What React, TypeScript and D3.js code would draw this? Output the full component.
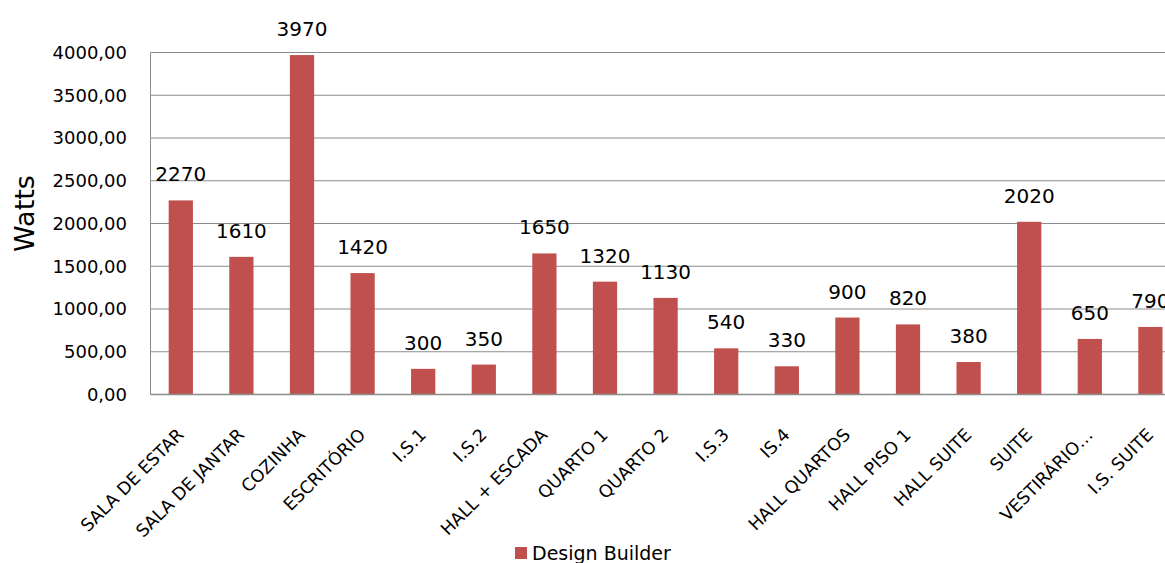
import React from "react";
import * as d3 from "d3";

const categories = [
  "SALA DE ESTAR", "SALA DE JANTAR", "COZINHA", "ESCRITÓRIO", "I.S.1", "I.S.2",
  "HALL + ESCADA", "QUARTO 1", "QUARTO 2", "I.S.3", "IS.4", "HALL QUARTOS",
  "HALL PISO 1", "HALL SUITE", "SUITE", "VESTIRÁRIO…", "I.S. SUITE",
];
const designBuilder = [2270, 1610, 3970, 1420, 300, 350, 1650, 1320, 1130, 540, 330, 900, 820, 380, 2020, 650, 790];
const yTicks = [0, 500, 1000, 1500, 2000, 2500, 3000, 3500, 4000];
const seriesName = "Design Builder";
const yTitle = "Watts";

const W = 1165;
const H = 563;
const FONT = "'DejaVu Sans', Verdana, sans-serif";
const BAR = "#C0504D";
const GRID = "#8c8c8c";

export default function App() {
  const left = 150.5;
  const step = 60.6;
  const x = d3
    .scaleBand<string>()
    .domain(categories)
    .range([left, left + step * categories.length])
    .paddingInner(0.6)
    .paddingOuter(0.3);
  const y = d3.scaleLinear().domain([0, 4000]).range([394.5, 52.5]);
  const fmt = (v: number) => v.toFixed(2).replace(".", ",");

  return (
    <svg
      width={W}
      height={H}
      style={{ position: "absolute", left: 0, top: 0, display: "block", background: "#fff" }}
      fontFamily={FONT}
    >
      {yTicks.map((t) => (
        <g key={t}>
          <line x1={left} x2={W} y1={y(t)} y2={y(t)} stroke={GRID} strokeWidth={1} />
          <text x={127} y={y(t)} dy="0.36em" textAnchor="end" fontSize={18} fill="#000">
            {fmt(t)}
          </text>
        </g>
      ))}
      <line x1={left} x2={left} y1={y(4000)} y2={y(0)} stroke={GRID} strokeWidth={1} />

      {categories.map((c, i) => {
        const v = designBuilder[i];
        const bx = x(c)!;
        const cx = bx + x.bandwidth() / 2;
        return (
          <g key={c}>
            <rect x={bx} y={y(v)} width={x.bandwidth()} height={y(0) - y(v)} fill={BAR} />
            <text x={cx} y={y(v) - 19} textAnchor="middle" fontSize={20} fill="#000">
              {v}
            </text>
            <text
              transform={`translate(${cx + 4},${436}) rotate(-45)`}
              textAnchor="end"
              fontSize={17.5}
              fill="#000"
            >
              {c}
            </text>
          </g>
        );
      })}
      <line x1={left} x2={W} y1={y(0)} y2={y(0)} stroke={GRID} strokeWidth={1.5} />

      <text
        transform={`translate(34,${213.5}) rotate(-90)`}
        textAnchor="middle"
        fontSize={27}
        fill="#000"
      >
        {yTitle}
      </text>

      <rect x={515} y={547} width={12} height={12} fill={BAR} />
      <text x={532} y={559.5} fontSize={19} fill="#000">
        {seriesName}
      </text>
    </svg>
  );
}
